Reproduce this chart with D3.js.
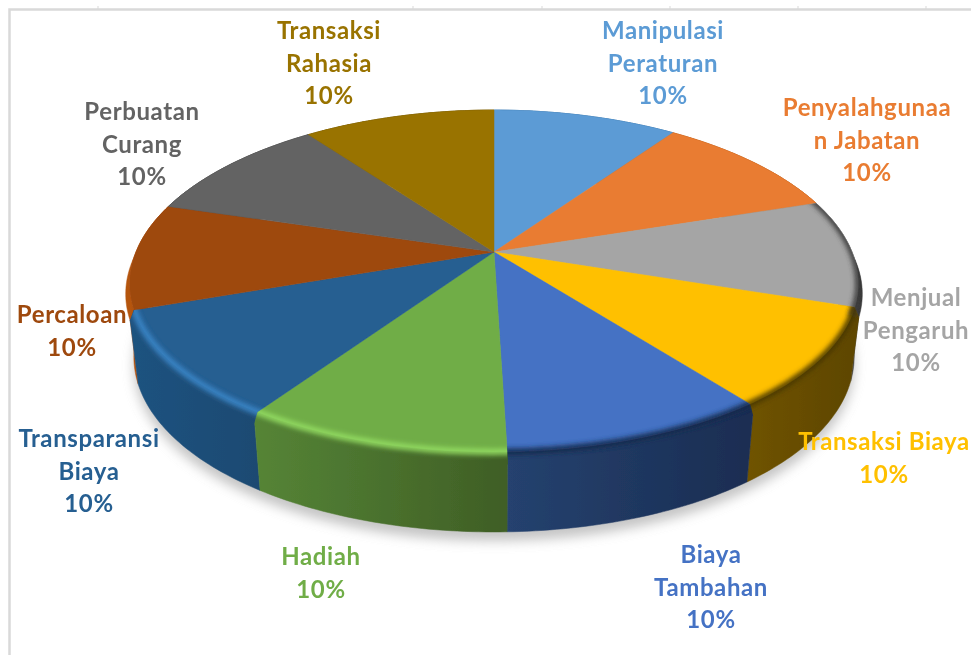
<!DOCTYPE html>
<html><head><meta charset="utf-8">
<script src="https://cdn.jsdelivr.net/npm/d3@7/dist/d3.min.js"></script>
<style>html,body{margin:0;background:#fff}svg{display:block}</style></head>
<body><svg id="c" width="971" height="655"></svg>
<script>
// ---- data ----
const categories = ["Manipulasi Peraturan","Penyalahgunaan Jabatan","Menjual Pengaruh","Transaksi Biaya","Biaya Tambahan","Hadiah","Transparansi Biaya","Percaloan","Perbuatan Curang","Transaksi Rahasia"];
const values = [9.75,10.25,10.1,9.45,9.97,9.94,10.19,10.0,10.2,10.15];
const labelLines = [["Manipulasi","Peraturan"],["Penyalahgunaa","n Jabatan"],["Menjual","Pengaruh"],["Transaksi Biaya"],["Biaya","Tambahan"],["Hadiah"],["Transparansi","Biaya"],["Percaloan"],["Perbuatan","Curang"],["Transaksi","Rahasia"]];
// ---- styles and layout ----
const topColors = ["#5b9bd5","#e97c30","#a5a5a5","#ffc000","#4472c4","#70ad47","#255e91","#9e480e","#636363","#997300"];
const wallLeft  = ["#3f78ab","#b85a1c","#8f8f8f","#6f5300","#25426f","#558436","#1f527f","#b5540f","#444444","#6f5400"];
const wallRight = ["#3f78ab","#b85a1c","#3a3a3a","#5e4600","#1a2d52","#3f5e25","#1d4a72","#9e480e","#444444","#6f5400"];
const rimColors = ["none","none","#3a3a3a","#4a3800","#16294d","#93dc62","#3a86c8","none","none","none"];
const labelAnchors = [[663,39],[867,116],[916,306],[884,450],[711,563],[321,565],[89,447],[72,323],[142,120],[329,39]];
const frameTicks = [98,413,542,670,798,926];

const svg = d3.select("#c"), defs = svg.append("defs");
const perspY = 0.1695, perspX = 0.184;
const topRing = {cx:494, cy:252, rx:358, ry:166};
const midRing = {cx:494, cy:262, rx:362, ry:168};
const baseRing = {cx:494, cy:323.8, rx:354, ry:172.9};
const uScale = r => d3.scaleLinear().domain([-1,1]).range([r.cx-r.rx, r.cx+r.rx]);
const vScale = r => d3.scaleLinear().domain([-1,1]).range([r.cy-r.ry, r.cy+r.ry]);
function project(ring, a){
  const u = Math.sin(a), v = -Math.cos(a);
  return [uScale(ring)(u/(1-perspX*v)), vScale(ring)(v/(1-perspY*v))];
}
const line = d3.line();
const arcPts = (ring,a0,a1) => { const n = Math.max(8,Math.ceil((a1-a0)*60)); return d3.range(n+1).map(i=>project(ring,a0+(a1-a0)*i/n)); };

const slices = d3.pie().sort(null).value(d=>d)(values).map((d,i)=>({...d,i}));
const total = d3.sum(values);
const pct = d3.format(".0%");

defs.append("filter").attr("id","bShadow").attr("x","-10%").attr("y","-10%").attr("width","120%").attr("height","130%")
  .append("feGaussianBlur").attr("stdDeviation",6);
defs.append("filter").attr("id","bRim").attr("filterUnits","userSpaceOnUse").attr("x",0).attr("y",0).attr("width",971).attr("height",655)
  .append("feGaussianBlur").attr("stdDeviation",2.4);
defs.append("filter").attr("id","bSoft").attr("filterUnits","userSpaceOnUse").attr("x",0).attr("y",0).attr("width",971).attr("height",655)
  .append("feGaussianBlur").attr("stdDeviation",0.45);

// frame of the pasted screenshot
const frame = svg.append("g").attr("stroke","#d9d9d9").attr("fill","none");
frame.append("path").attr("d","M9.5,655V9.5H971").attr("stroke-width",2.5);
frame.selectAll("line").data(frameTicks).join("line").attr("x1",d=>d).attr("x2",d=>d).attr("y1",6).attr("y2",9).attr("stroke-width",1);

const chart = svg.append("g").attr("filter","url(#bSoft)");

// soft shadow beneath the pie
chart.append("path")
  .attr("d", line(arcPts(baseRing,0,2*Math.PI))+"Z")
  .attr("transform","translate(0,9)")
  .attr("fill","#8c8c8c").attr("opacity",.5).attr("filter","url(#bShadow)");

// walls, painted back to front
const order = slices.slice().sort((a,b)=>{
  const m = d=>-Math.cos((d.startAngle+d.endAngle)/2);
  return m(a)-m(b);
});
const wallShape = d => line(
  [project(topRing,d.startAngle),project(midRing,d.startAngle)]
    .concat(arcPts(baseRing,d.startAngle,d.endAngle))
    .concat([project(midRing,d.endAngle),project(topRing,d.endAngle)])
    .concat(arcPts(topRing,d.startAngle,d.endAngle).reverse())
)+"Z";
const wallBulge = d => line(arcPts(midRing,d.startAngle,d.endAngle).concat(arcPts(topRing,d.startAngle,d.endAngle).reverse()))+"Z";
const topPath = d => line([[topRing.cx,topRing.cy]].concat(arcPts(topRing,d.startAngle,d.endAngle)))+"Z";

slices.forEach(d=>{
  const xs = arcPts(topRing,d.startAngle,d.endAngle).map(p=>p[0]);
  const g = defs.append("linearGradient").attr("id","wall"+d.i).attr("gradientUnits","userSpaceOnUse")
    .attr("x1",d3.min(xs)).attr("x2",d3.max(xs)).attr("y1",0).attr("y2",0);
  g.append("stop").attr("offset",0).attr("stop-color",wallLeft[d.i]);
  g.append("stop").attr("offset",1).attr("stop-color",wallRight[d.i]);
  const c = defs.append("clipPath").attr("id","clip"+d.i);
  c.append("path").attr("d",wallShape(d));
  c.append("path").attr("d",wallBulge(d));
  c.append("path").attr("d",topPath(d));
});

const walls = chart.append("g").selectAll("g").data(order).join("g")
  .attr("fill",d=>`url(#wall${d.i})`).attr("stroke",d=>`url(#wall${d.i})`).attr("stroke-width",.5);
walls.append("path").attr("d",wallShape);
walls.append("path").attr("d",wallBulge);

// top faces
chart.append("g").selectAll("path").data(slices).join("path")
  .attr("d",topPath).attr("fill",d=>topColors[d.i]).attr("stroke",d=>topColors[d.i]).attr("stroke-width",.5);

// bevel along the rim
chart.append("g").selectAll("g").data(slices.filter(d=>rimColors[d.i]!=="none")).join("g")
  .attr("clip-path",d=>`url(#clip${d.i})`)
  .append("path")
  .attr("d",d=>line(arcPts(topRing,d.startAngle-.05,d.endAngle+.05)))
  .attr("fill","none").attr("stroke",d=>rimColors[d.i]).attr("stroke-width",6).attr("filter","url(#bRim)");

// labels
const labels = chart.append("g").attr("font-family","Lato, 'Open Sans', sans-serif").attr("font-weight",700).attr("font-size",24).attr("letter-spacing",.6).attr("text-anchor","middle");
slices.forEach(d=>{
  const [x,y] = labelAnchors[d.i];
  const lines = labelLines[d.i].concat(pct(Math.round(d.value/total*10)/10));
  labels.append("text").attr("fill",topColors[d.i]).selectAll("tspan").data(lines).join("tspan")
    .attr("x",x).attr("y",(t,j)=>y+j*32.5).text(t=>t);
});
</script></body></html>
